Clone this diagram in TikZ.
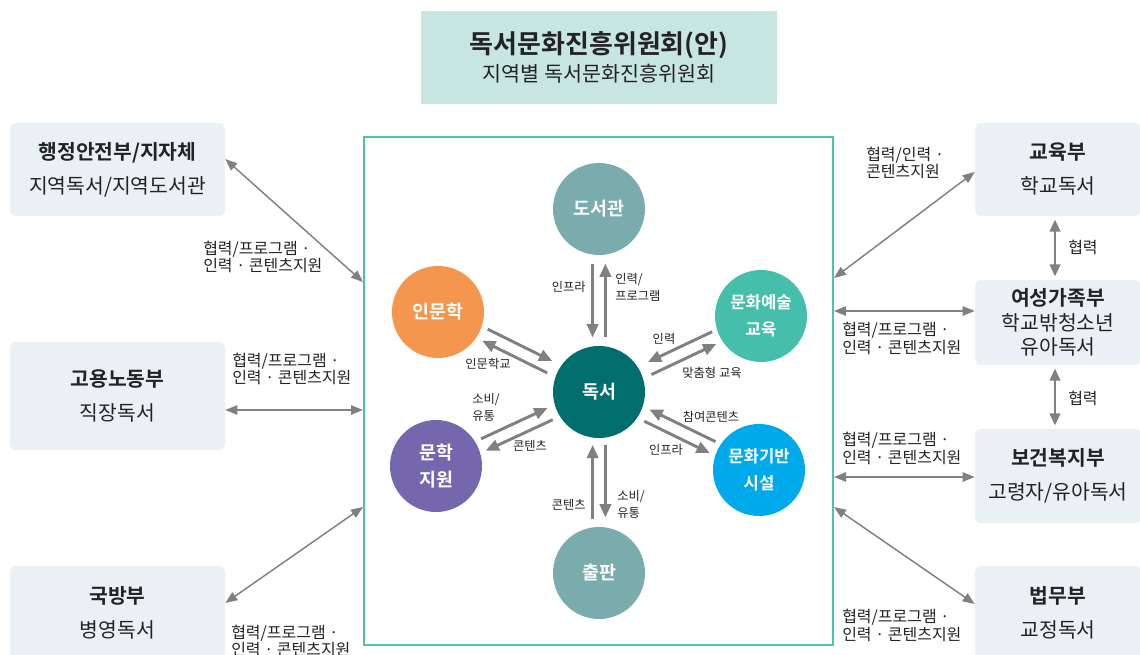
\documentclass[tikz,border=0pt]{standalone}
\usepackage{fontspec}
\setmainfont{Noto Sans CJK KR}[BoldFont={Noto Sans CJK KR Bold}]
\newfontfamily\medfont{Noto Sans CJK KR Medium}
\usetikzlibrary{arrows.meta,calc}
\definecolor{titlefill}{RGB}{199,230,225}
\definecolor{boxfill}{RGB}{234,241,245}
\definecolor{mainline}{RGB}{76,195,176}
\definecolor{arrgray}{RGB}{128,128,130}
\definecolor{textc}{RGB}{35,35,35}
\definecolor{cLib}{RGB}{122,171,173}
\definecolor{cHum}{RGB}{245,150,79}
\definecolor{cArt}{RGB}{69,190,172}
\definecolor{cRead}{RGB}{0,110,109}
\definecolor{cLit}{RGB}{117,103,174}
\definecolor{cFac}{RGB}{0,170,234}
\begin{document}
\begin{tikzpicture}[x=0.75pt,y=-0.75pt,
  sidebox/.style={rectangle, rounded corners=4pt, fill=boxfill, inner sep=0pt, text=textc, align=center, font=\fontsize{15.3}{25.5}\selectfont},
  circ/.style={circle, minimum size=69pt, inner sep=0pt, outer sep=0pt, text=white, align=center, font=\bfseries\fontsize{13.8}{20}\selectfont},
  circsm/.style={circ, font=\bfseries\fontsize{12.5}{20.5}\selectfont},
  inarr/.style={draw=arrgray, line width=2.2pt, -{Triangle[length=10pt,width=8.5pt]}},
  outarr/.style={draw=arrgray, line width=1.1pt, {Triangle[length=9pt,width=7pt]}-{Triangle[length=9pt,width=7pt]}},
  vertarr/.style={draw=arrgray, line width=1.5pt, {Triangle[length=9pt,width=8pt]}-{Triangle[length=9pt,width=8pt]}, shorten <=2.5pt, shorten >=2.5pt},
  lbl/.style={font=\fontsize{9.2}{12.75}\selectfont, text=textc, inner sep=0pt, align=left},
  outlbl/.style={font=\fontsize{12}{13.2}\selectfont, text=textc, inner sep=0pt, align=left}
]
\useasboundingbox (0,0) rectangle (1140,655);
\clip (0,0) rectangle (1140,655);

% title
\node[rectangle, fill=titlefill, minimum width=267pt, minimum height=69.75pt, inner sep=0pt, align=center, text=textc, font=\fontsize{15.5}{21}\selectfont] (title) at (599,57.5)
  {{\bfseries\fontsize{19.5}{21}\selectfont 독서문화진흥위원회(안)}\\지역별 독서문화진흥위원회};

% main box
\node[draw=mainline, line width=1.5pt, minimum width=351.75pt, minimum height=381pt, inner sep=0pt] (main) at (598.5,391) {};

% side boxes
\node[sidebox, minimum width=161.25pt, minimum height=69.75pt] (lb1) at (117.5,169.5) {\textbf{행정안전부/지자체}\\지역독서/지역도서관};
\node[sidebox, minimum width=161.25pt, minimum height=81pt] (lb2) at (117.5,396) {\textbf{고용노동부}\\직장독서};
\node[sidebox, minimum width=161.25pt, minimum height=69.75pt] (lb3) at (117.5,612.5) {\textbf{국방부}\\병영독서};
\node[sidebox, minimum width=124.5pt, minimum height=69.75pt] (rb1) at (1058,169.5) {\textbf{교육부}\\학교독서};
\node[sidebox, minimum width=124.5pt, minimum height=63.75pt, font=\fontsize{15.3}{18.4}\selectfont] (rb2) at (1058,322.5) {\textbf{여성가족부}\\학교밖청소년\\유아독서};
\node[sidebox, minimum width=124.5pt, minimum height=70.5pt] (rb3) at (1058,476) {\textbf{보건복지부}\\고령자/유아독서};
\node[sidebox, minimum width=124.5pt, minimum height=69.75pt] (rb4) at (1058,612.5) {\textbf{법무부}\\교정독서};

% circles
\node[circ, fill=cLib] (lib) at (599,209) {도서관};
\node[circ, fill=cHum] (hum) at (438,312) {인문학};
\node[circsm, fill=cArt] (art) at (761,316) {문화예술\\교육};
\node[circ, fill=cRead] (dok) at (599,392) {독서};
\node[circ, fill=cLit] (lit) at (436,466) {문학\\지원};
\node[circsm, fill=cFac] (fac) at (759,470) {문화기반\\시설};
\node[circ, fill=cLib] (pub) at (599,573) {출판};

% inner arrows
\draw[inarr, shorten <=6.75pt, shorten >=6.75pt] (lib.-98) -- (dok.98);
\draw[inarr, shorten <=6.75pt, shorten >=6.75pt] (dok.82) -- (lib.-82);
\draw[inarr, shorten <=5pt, shorten >=7.5pt] (hum.-18.4) -- (dok.145.6);
\draw[inarr, shorten <=7pt, shorten >=5pt] (dok.161.6) -- (hum.-34.4);
\draw[inarr, shorten <=4pt, shorten >=8.5pt] (art.197.1) -- (dok.33.1);
\draw[inarr, shorten <=7pt, shorten >=5pt] (dok.17.1) -- (art.213.1);
\draw[inarr, shorten <=5pt, shorten >=6pt] (lit.32.4) -- (dok.196.4);
\draw[inarr, shorten <=6pt, shorten >=4.5pt] (dok.212.4) -- (lit.16.4);
\draw[inarr, shorten <=4.5pt, shorten >=5.5pt] (fac.146) -- (dok.-18);
\draw[inarr, shorten <=6pt, shorten >=4.5pt] (dok.-34) -- (fac.162);
\draw[inarr, shorten <=5.5pt, shorten >=7.5pt] (dok.-82) -- (pub.82);
\draw[inarr, shorten <=6pt, shorten >=5.5pt] (pub.98) -- (dok.-98);

% inner labels
\node[lbl, anchor=east] (l1) at (586,287) {인프라};
\node[lbl, anchor=west] (l2) at (615,287) {인력/\\프로그램};
\node[lbl, anchor=center] (l3) at (488,364) {인문학교};
\node[lbl, anchor=center] (l4) at (664,339) {인력};
\node[lbl, anchor=center] (l5) at (712,373) {맞춤형 교육};
\node[lbl, anchor=west] (l6) at (472,407) {소비/\\유통};
\node[lbl, anchor=center] (l7) at (530,446) {콘텐츠};
\node[lbl, anchor=center] (l8) at (711,417) {참여콘텐츠};
\node[lbl, anchor=center] (l9) at (666,450) {인프라};
\node[lbl, anchor=east] (l10) at (586,505) {콘텐츠};
\node[lbl, anchor=west] (l11) at (617,504) {소비/\\유통};

% outer arrows
\draw[outarr] (lb1.east |- 0,159) -- (main.west |- 0,282);
\draw[outarr] (lb2.east |- 0,410) -- (main.west |- 0,410);
\draw[outarr] (lb3.east |- 0,603) -- (main.west |- 0,507);
\draw[outarr] (main.east |- 0,278) -- (rb1.west |- 0,172);
\draw[outarr] (main.east |- 0,311) -- (rb2.west |- 0,311);
\draw[outarr] (main.east |- 0,477) -- (rb3.west |- 0,477);
\draw[outarr] (main.east |- 0,507) -- (rb4.west |- 0,604);
\draw[vertarr] (rb1.south -| 1055,0) -- (rb2.north -| 1055,0);
\draw[vertarr] (rb2.south -| 1055,0) -- (rb3.north -| 1055,0);

% outer labels
\node[outlbl, anchor=west] (o1) at (203,257) {협력/프로그램 ·\\인력 · 콘텐츠지원};
\node[outlbl, anchor=west] (o2) at (232,369) {협력/프로그램 ·\\인력 · 콘텐츠지원};
\node[outlbl, anchor=west] (o3) at (231,641) {협력/프로그램 ·\\인력 · 콘텐츠지원};
\node[outlbl, anchor=west] (o4) at (866,163) {협력/인력 ·\\콘텐츠지원};
\node[outlbl, anchor=west] (o5) at (842,338.5) {협력/프로그램 ·\\인력 · 콘텐츠지원};
\node[outlbl, anchor=west] (o6) at (842,448.5) {협력/프로그램 ·\\인력 · 콘텐츠지원};
\node[outlbl, anchor=west] (o7) at (842,625.5) {협력/프로그램 ·\\인력 · 콘텐츠지원};
\node[outlbl, anchor=west] (o8) at (1068,247) {협력};
\node[outlbl, anchor=west] (o9) at (1068,398) {협력};
\end{tikzpicture}
\end{document}
